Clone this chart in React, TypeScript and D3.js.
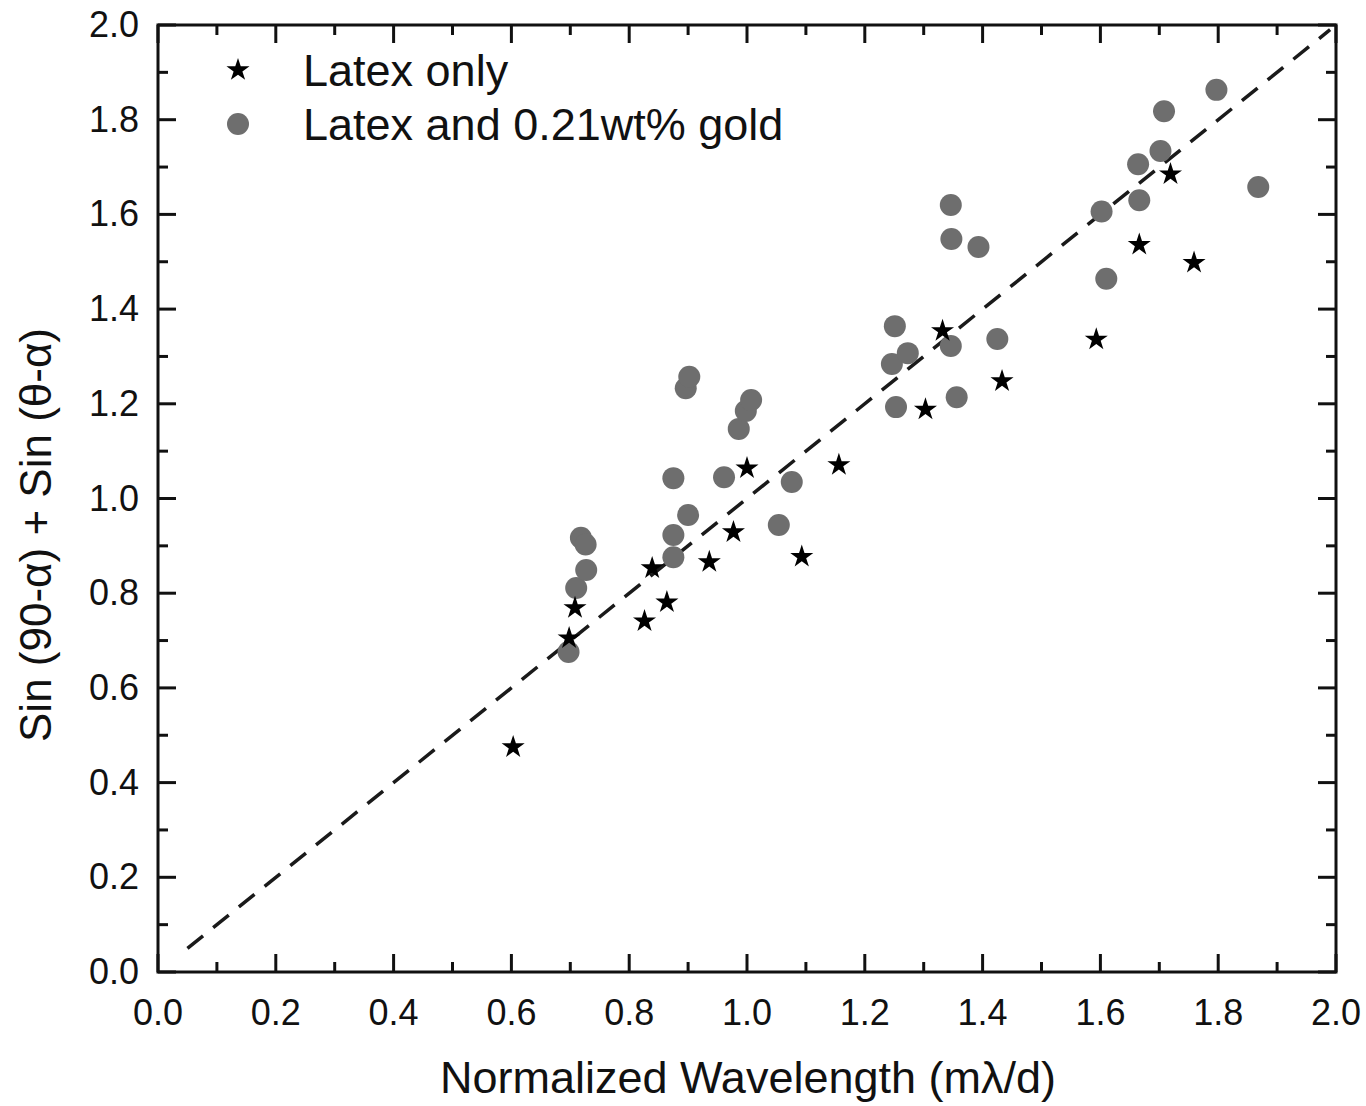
import React from "react";
import * as d3 from "d3";

// Latex only (stars)
const latexX = [0.603, 0.698, 0.708, 0.826, 0.839, 0.864, 0.936, 0.977, 1.0, 1.093, 1.156, 1.303, 1.332, 1.433, 1.593, 1.666, 1.719, 1.759];
const latexY = [0.475, 0.705, 0.769, 0.741, 0.853, 0.781, 0.866, 0.929, 1.064, 0.877, 1.071, 1.188, 1.354, 1.248, 1.336, 1.536, 1.685, 1.498];

// Latex and 0.21wt% gold (circles)
const goldX = [0.697, 0.71, 0.727, 0.718, 0.726, 0.875, 0.875, 0.9, 0.875, 0.961, 0.896, 0.902, 0.986, 0.998, 1.007, 1.054, 1.076, 1.246, 1.251, 1.253, 1.273, 1.346, 1.346, 1.347, 1.356, 1.393, 1.425, 1.602, 1.61, 1.664, 1.666, 1.702, 1.708, 1.797, 1.868];
const goldY = [0.676, 0.811, 0.849, 0.917, 0.903, 0.876, 0.923, 0.965, 1.043, 1.045, 1.233, 1.257, 1.147, 1.185, 1.208, 0.944, 1.035, 1.284, 1.364, 1.193, 1.307, 1.322, 1.62, 1.548, 1.214, 1.531, 1.337, 1.606, 1.464, 1.706, 1.63, 1.734, 1.818, 1.863, 1.658];

// y = x guide line
const fitX = [0.05, 1.99];

const majorTicks = [0, 0.2, 0.4, 0.6, 0.8, 1.0, 1.2, 1.4, 1.6, 1.8, 2.0];
const minorTicks = [0.1, 0.3, 0.5, 0.7, 0.9, 1.1, 1.3, 1.5, 1.7, 1.9];

const legendLabels = ["Latex only", "Latex and 0.21wt% gold"];

const W = 1366;
const H = 1106;
const FONT = "'Liberation Sans', Arial, sans-serif";

const App = () => {
  const margin = { top: 25, right: 30, bottom: 134, left: 158 };
  const x = d3.scaleLinear().domain([0, 2]).range([margin.left, W - margin.right]);
  const y = d3.scaleLinear().domain([0, 2]).range([H - margin.bottom, margin.top]);

  const x0 = x(0), x1 = x(2), y0 = y(0), y1 = y(2);
  const majorLen = 18;
  const minorLen = 10;
  const starPath = d3.symbol(d3.symbolStar, 165)() || "";
  const gray = "#6e6e6e";

  const line = d3.line<number>().x((v) => x(v)).y((v) => y(v));

  return (
    <svg width={W} height={H} style={{ position: "absolute", left: 0, top: 0, background: "white" }} fontFamily={FONT}>
      {/* dashed y = x line */}
      <path d={line(fitX) || ""} fill="none" stroke="#1a1a1a" strokeWidth={3.5} strokeDasharray="20,13" />

      {/* gold circles */}
      {goldX.map((gx, i) => (
        <circle key={"g" + i} cx={x(gx)} cy={y(goldY[i])} r={11} fill={gray} />
      ))}

      {/* latex stars */}
      {latexX.map((lx, i) => (
        <path key={"s" + i} d={starPath} transform={`translate(${x(lx)},${y(latexY[i])})`} fill="#000" />
      ))}

      {/* ticks on all four sides, pointing inward */}
      {majorTicks.concat(minorTicks).map((t) => {
        const len = majorTicks.includes(t) ? majorLen : minorLen;
        return (
          <g key={"t" + t} stroke="#111" strokeWidth={3}>
            <line x1={x(t)} x2={x(t)} y1={y0} y2={y0 - len} />
            <line x1={x(t)} x2={x(t)} y1={y1} y2={y1 + len} />
            <line x1={x0} x2={x0 + len} y1={y(t)} y2={y(t)} />
            <line x1={x1} x2={x1 - len} y1={y(t)} y2={y(t)} />
          </g>
        );
      })}

      {/* frame */}
      <rect x={x0} y={y1} width={x1 - x0} height={y0 - y1} fill="none" stroke="#111" strokeWidth={3} />

      {/* tick labels */}
      {majorTicks.map((t) => (
        <text key={"xl" + t} x={x(t)} y={1025} textAnchor="middle" fontSize={36} fill="#111">
          {t.toFixed(1)}
        </text>
      ))}
      {majorTicks.map((t) => (
        <text key={"yl" + t} x={139} y={y(t) + 12} textAnchor="end" fontSize={36} fill="#111">
          {t.toFixed(1)}
        </text>
      ))}

      {/* axis titles */}
      <text x={748} y={1093} textAnchor="middle" fontSize={45} fill="#111">
        Normalized Wavelength (mλ/d)
      </text>
      <text transform="translate(51,535) rotate(-90)" textAnchor="middle" fontSize={44} fill="#111">
        Sin (90-α) + Sin (θ-α)
      </text>

      {/* legend */}
      <path d={starPath} transform="translate(238,70)" fill="#000" />
      <text x={303} y={86} fontSize={45} fill="#111">{legendLabels[0]}</text>
      <circle cx={238} cy={124} r={11} fill={gray} />
      <text x={303} y={140} fontSize={45} fill="#111">{legendLabels[1]}</text>
    </svg>
  );
};

export default App;
